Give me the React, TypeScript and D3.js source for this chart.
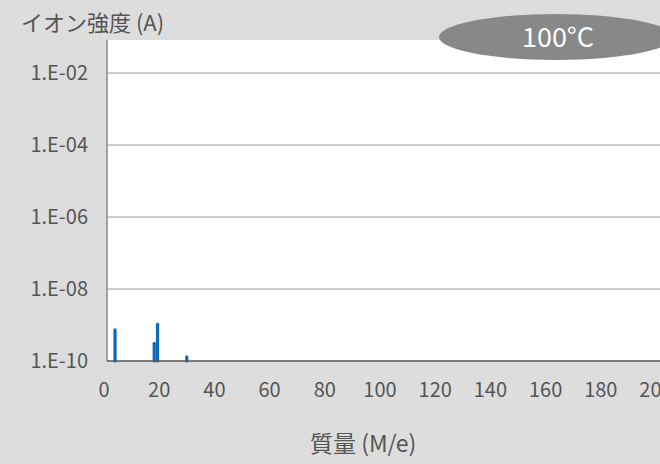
import { useEffect, useRef } from "react";
import * as d3 from "d3";

// peaks (mass number, ion current in A)
const masses = [4, 18.2, 19.4, 30];
const intensities = [7.3e-10, 3.1e-10, 1.05e-9, 1.3e-10];

const xTicks = [0, 20, 40, 60, 80, 100, 120, 140, 160, 180, 200];
const yTicks = [1e-10, 1e-8, 1e-6, 1e-4, 1e-2];
const yTickLabels = ["1.E-10", "1.E-08", "1.E-06", "1.E-04", "1.E-02"];

const yTitle = "イオン強度 (A)";
const xTitle = "質量 (M/e)";
const badge = "100°C";

const width = 660;
const height = 464;
const plotLeft = 107;
const plotTop = 40;
const plotBottom = 361;
const font = "'Noto Sans CJK JP', 'Noto Sans', sans-serif";
const textColor = "#555";

const App = () => {
    const ref = useRef<SVGSVGElement>(null);

    const xScale = d3.scaleLinear().domain([0, 200]).range([104, 656]);
    const yScale = d3.scaleLog().domain([1e-10, 1e-2]).range([plotBottom, 73]);

    useEffect(() => {
        const svg = d3.select(ref.current);
        svg.selectAll("*").remove();

        svg.append("rect")
            .attr("width", width)
            .attr("height", height)
            .attr("fill", "#dddddd");

        // plot area
        svg.append("rect")
            .attr("x", plotLeft)
            .attr("y", plotTop)
            .attr("width", width - plotLeft)
            .attr("height", plotBottom - plotTop)
            .attr("fill", "#ffffff");

        // gridlines
        svg.append("g")
            .selectAll("line")
            .data(yTicks.slice(1))
            .join("line")
            .attr("x1", plotLeft)
            .attr("x2", width)
            .attr("y1", (d) => yScale(d))
            .attr("y2", (d) => yScale(d))
            .attr("stroke", "#9a9a9a")
            .attr("stroke-width", 1);

        // left frame
        svg.append("line")
            .attr("x1", plotLeft)
            .attr("x2", plotLeft)
            .attr("y1", plotTop)
            .attr("y2", plotBottom)
            .attr("stroke", "#8a8a8a")
            .attr("stroke-width", 1.5);

        // peaks
        svg.append("g")
            .selectAll("line")
            .data(masses.map((m, i) => ({ m, v: intensities[i] })))
            .join("line")
            .attr("x1", (d) => xScale(d.m))
            .attr("x2", (d) => xScale(d.m))
            .attr("y1", plotBottom)
            .attr("y2", (d) => yScale(d.v))
            .attr("stroke", "#0b6bb8")
            .attr("stroke-width", 3.2)
            .attr("stroke-linecap", "round");

        // bottom axis
        svg.append("line")
            .attr("x1", plotLeft)
            .attr("x2", width)
            .attr("y1", plotBottom)
            .attr("y2", plotBottom)
            .attr("stroke", "#555")
            .attr("stroke-width", 1.5);

        // y tick labels
        svg.append("g")
            .selectAll("text")
            .data(yTicks)
            .join("text")
            .attr("x", 88)
            .attr("y", (d) => yScale(d))
            .attr("dy", "0.35em")
            .attr("text-anchor", "end")
            .attr("font-family", font)
            .attr("font-size", 20)
            .attr("fill", textColor)
            .text((d, i) => yTickLabels[i]);

        // x tick labels
        svg.append("g")
            .selectAll("text")
            .data(xTicks)
            .join("text")
            .attr("x", (d) => xScale(d))
            .attr("y", 390)
            .attr("dy", "0.35em")
            .attr("text-anchor", "middle")
            .attr("font-family", font)
            .attr("font-size", 20)
            .attr("fill", textColor)
            .text((d) => String(d));

        svg.append("text")
            .attr("x", 21)
            .attr("y", 23)
            .attr("dy", "0.35em")
            .attr("font-family", font)
            .attr("font-size", 22)
            .attr("fill", textColor)
            .text(yTitle);

        svg.append("text")
            .attr("x", 310)
            .attr("y", 444)
            .attr("dy", "0.35em")
            .attr("font-family", font)
            .attr("font-size", 23)
            .attr("fill", textColor)
            .text(xTitle);

        // temperature badge
        svg.append("ellipse")
            .attr("cx", 556)
            .attr("cy", 37)
            .attr("rx", 117)
            .attr("ry", 23)
            .attr("fill", "#888888");

        svg.append("text")
            .attr("x", 558)
            .attr("y", 38)
            .attr("dy", "0.35em")
            .attr("text-anchor", "middle")
            .attr("font-family", font)
            .attr("font-size", 27)
            .attr("fill", "#ffffff")
            .text(badge);
    }, []);

    return (
        <svg
            ref={ref}
            width={width}
            height={height}
            viewBox={`0 0 ${width} ${height}`}
            style={{ position: "absolute", left: 0, top: 0, display: "block" }}
        />
    );
};

export default App;
